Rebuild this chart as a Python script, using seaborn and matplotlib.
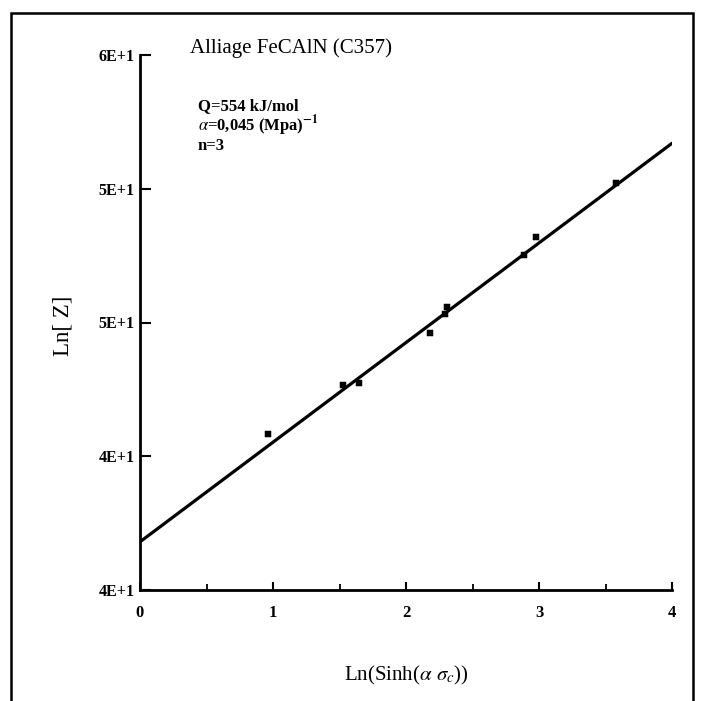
import matplotlib
matplotlib.use("Agg")
import matplotlib.pyplot as plt
import seaborn as sns
import pandas as pd
from matplotlib.patches import Rectangle
from matplotlib.ticker import MultipleLocator

# Points
ln_sinh = [0.96, 1.53, 1.65, 2.18, 2.29, 2.31, 2.89, 2.98, 3.58]
ln_z = [40.82, 42.65, 42.73, 44.61, 45.32, 45.58, 47.53, 48.21, 50.20]

# Fitted line, end points
fit_x = [0.0, 4.0]
fit_y = [36.8, 51.7]

x_ticks = [0, 1, 2, 3, 4]
y_ticks = [35, 40, 45, 50, 55]
y_tick_labels = ["4E+1", "4E+1", "5E+1", "5E+1", "6E+1"]

sns.set_theme(style="ticks")
plt.rcParams["font.family"] = ["Liberation Serif", "DejaVu Serif"]
plt.rcParams["mathtext.fontset"] = "stix"
plt.rcParams["text.color"] = "black"
plt.rcParams["axes.labelcolor"] = "black"

W, H = 702, 701
fig = plt.figure(figsize=(W / 100, H / 100), dpi=100)
fig.patch.set_facecolor("white")

# axes box in pixels: x 140..672, y 55..590
ax = fig.add_axes([140 / W, (H - 590) / H, 532 / W, 535 / H])
ax.set_facecolor("white")

pts = pd.DataFrame({"x": ln_sinh, "y": ln_z})
fit = pd.DataFrame({"x": fit_x, "y": fit_y})

sns.lineplot(data=fit, x="x", y="y", ax=ax, color="black", linewidth=2.3)
sns.scatterplot(data=pts, x="x", y="y", ax=ax, marker="s", s=20,
                color="black", edgecolor="black", zorder=3)

ax.set_xlim(0, 4)
ax.set_ylim(35, 55)
ax.set_xticks(x_ticks)
ax.set_xticklabels([str(t) for t in x_ticks], fontweight="bold", fontsize=12)
ax.xaxis.set_minor_locator(MultipleLocator(0.5))
ax.set_yticks(y_ticks)
ax.set_yticklabels(y_tick_labels, fontweight="bold", fontsize=11.5)

ax.tick_params(axis="x", which="major", direction="in", length=6, width=1.5, pad=11, colors="black")
ax.tick_params(axis="x", which="minor", direction="in", length=4, width=1.3, colors="black")
ax.tick_params(axis="y", which="major", direction="in", length=8, width=1.5, pad=4, colors="black")

for side in ["top", "right"]:
    ax.spines[side].set_visible(False)
for side in ["left", "bottom"]:
    ax.spines[side].set_linewidth(2)
    ax.spines[side].set_color("black")

ax.set_xlabel(r"Ln(Sinh($\alpha$ $\sigma_c$))", fontsize=15, color="black", va="center")
ax.xaxis.set_label_coords(0.5, (590 - 675) / 535)
ax.set_ylabel("Ln[ Z]", fontsize=16.5, color="black", va="center")
ax.yaxis.set_label_coords((63 - 140) / 532, (590 - 326) / 535)

ax.text(0.094, (590 - 48) / 535, "Alliage FeCAlN (C357)", transform=ax.transAxes,
        fontsize=15, va="center", ha="left", color="black")
ax.text(0.109, (590 - 106) / 535, "Q=554 kJ/mol", transform=ax.transAxes,
        fontsize=12, fontweight="bold", va="center", ha="left", color="black")
ax.text(0.109, (590 - 126) / 535, r"$\alpha$=0,045 (Mpa)$^{\mathbf{-1}}$", transform=ax.transAxes,
        fontsize=12, fontweight="bold", va="center", ha="left", color="black")
ax.text(0.109, (590 - 146) / 535, "n=3", transform=ax.transAxes,
        fontsize=12, fontweight="bold", va="center", ha="left", color="black")

# scanned page frame
fig.add_artist(Rectangle((11 / W, -0.05), (693 - 11) / W, 1.05 - 13 / H,
                         transform=fig.transFigure, fill=False,
                         edgecolor="black", linewidth=1.8, clip_on=False))

fig.savefig("out.png", dpi=100, facecolor="white")
